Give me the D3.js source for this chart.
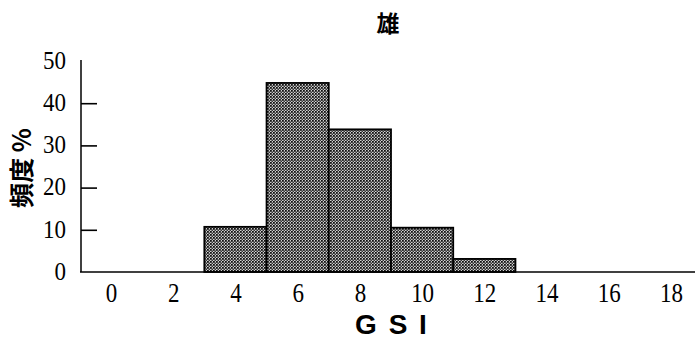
<!DOCTYPE html>
<html>
<head>
<meta charset="utf-8">
<script src="https://cdn.jsdelivr.net/npm/d3@7"></script>
<style>
html,body{margin:0;padding:0;background:#fff;}
svg{display:block;}
</style>
</head>
<body>
<svg id="chart" width="695" height="353"></svg>
<script>
const binStarts = [3, 5, 7, 9, 11];
const binWidth = 2;
const frequencies = [10.7, 44.8, 33.8, 10.5, 3.1];
const xTicks = [0, 2, 4, 6, 8, 10, 12, 14, 16, 18];
const yTicks = [0, 10, 20, 30, 40, 50];
const yInnerTicks = [10, 20, 30, 40];
const title = "雄";
const xTitle = "G S I";
const yTitle = "頻度 %";

const svg = d3.select("#chart");
const x = d3.scaleLinear().domain([0, 18]).range([111, 671]);
const y = d3.scaleLinear().domain([0, 50]).range([272, 61]);

const defs = svg.append("defs");
const pat = defs.append("pattern").attr("id", "dots")
  .attr("width", 3).attr("height", 3).attr("patternUnits", "userSpaceOnUse");
pat.append("rect").attr("width", 3).attr("height", 3).attr("fill", "#cfcfcf");
pat.append("rect").attr("x", 0).attr("y", 0).attr("width", 1.8).attr("height", 1.8).attr("fill", "#111");
pat.append("rect").attr("x", 1.5).attr("y", 1.5).attr("width", 1.5).attr("height", 1.5).attr("fill", "#333");

// bars
svg.append("g").selectAll("rect").data(binStarts).join("rect")
  .attr("x", (d) => x(d))
  .attr("y", (d, i) => y(frequencies[i]))
  .attr("width", (d) => x(d + binWidth) - x(d))
  .attr("height", (d, i) => y(0) - y(frequencies[i]))
  .attr("fill", "url(#dots)")
  .attr("stroke", "#000")
  .attr("stroke-width", 1.8);

// x axis
const xAxis = d3.axisBottom(x).tickValues(xTicks).tickSize(0).tickPadding(10).tickFormat(d3.format("d"));
const gx = svg.append("g").attr("transform", `translate(0,${y(0)})`).call(xAxis);
gx.select(".domain").remove();
gx.selectAll("text")
  .style("font-family", "'Liberation Serif', serif").style("font-size", "23px").attr("fill", "#000")
  .attr("transform", "scale(1,1.15)");
svg.append("line").attr("x1", 80).attr("x2", 695).attr("y1", y(0)).attr("y2", y(0))
  .attr("stroke", "#000").attr("stroke-width", 1.5);

// y axis: labels on the left, tick marks pointing inward
const yAxis = d3.axisLeft(y).tickValues(yTicks).tickSize(0).tickPadding(15).tickFormat(d3.format("d"));
const gy = svg.append("g").attr("transform", "translate(81,0)").call(yAxis);
gy.select(".domain").remove();
gy.selectAll("text")
  .style("font-family", "'Liberation Serif', serif").style("font-size", "23px").attr("fill", "#000")
  .attr("transform", "scale(1,1.1)").attr("dy", "0.29em");
const yTickAxis = d3.axisRight(y).tickValues(yInnerTicks).tickSize(16).tickFormat("");
const gyt = svg.append("g").attr("transform", "translate(81,0)").call(yTickAxis);
gyt.select(".domain").remove();
gyt.selectAll("line").attr("stroke", "#000").attr("stroke-width", 1.6);
svg.append("line").attr("x1", 81).attr("x2", 81).attr("y1", y(0)).attr("y2", y(50) - 1)
  .attr("stroke", "#000").attr("stroke-width", 1.5);

// titles
svg.append("text").attr("x", 388).attr("y", 32).attr("text-anchor", "middle")
  .style("font-family", "'Noto Sans CJK JP'").style("font-weight", "bold").style("font-size", "23px")
  .text(title);
svg.append("text").attr("x", 392).attr("y", 334).attr("text-anchor", "middle")
  .style("font-family", "'Liberation Sans', Arial, sans-serif").style("font-weight", "bold").style("font-size", "28px")
  .attr("letter-spacing", 2)
  .attr("xml:space", "preserve")
  .text(xTitle);
svg.append("text").attr("transform", "translate(31,168) rotate(-90)").attr("text-anchor", "middle")
  .style("font-family", "'Noto Sans CJK JP'").style("font-weight", "bold").style("font-size", "25px")
  .text(yTitle);
</script>
</body>
</html>
